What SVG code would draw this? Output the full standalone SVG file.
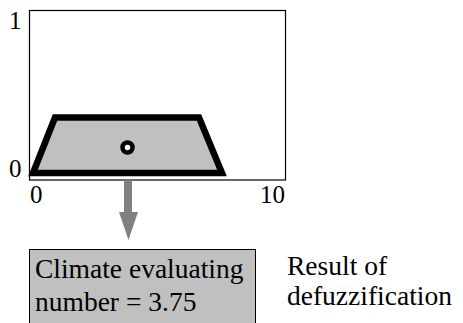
<svg xmlns="http://www.w3.org/2000/svg" width="463" height="323" viewBox="0 0 463 323">
<style>
.t{font-family:"Liberation Serif","Times New Roman",serif;fill:#000}
.ax{font-size:25px}
.lb{font-size:27.5px}
</style>
<rect width="463" height="323" fill="#fff"/>
<g id="chart">
<rect x="29.5" y="10.5" width="256" height="169.5" fill="#fff" stroke="#000" stroke-width="1.2"/>
<polygon points="33,173 55,117.5 199,117.5 222,173" fill="#c0c0c0" stroke="#000" stroke-width="6.5" stroke-linejoin="miter"/>
<circle cx="127.5" cy="147.5" r="5" fill="#fff" stroke="#000" stroke-width="4.5"/>
<text class="t ax" x="9" y="29">1</text>
<text class="t ax" x="9" y="177">0</text>
<text class="t ax" x="30" y="203">0</text>
<text class="t ax" x="260" y="203">10</text>
</g>
<g id="connectors">
<line x1="128" y1="180" x2="128" y2="214" stroke="#808080" stroke-width="8"/>
<polygon points="119,212 138,212 128.5,240" fill="#808080"/>
</g>
<g id="result">
<rect x="29.5" y="249.5" width="226" height="80" fill="#c0c0c0" stroke="#000" stroke-width="1"/>
<text class="t lb" x="35" y="278">Climate evaluating</text>
<text class="t lb" x="35" y="311">number = 3.75</text>
</g>
<g id="caption">
<text class="t lb" x="287" y="275">Result of</text>
<text class="t lb" x="287" y="305">defuzzification</text>
</g>
</svg>
